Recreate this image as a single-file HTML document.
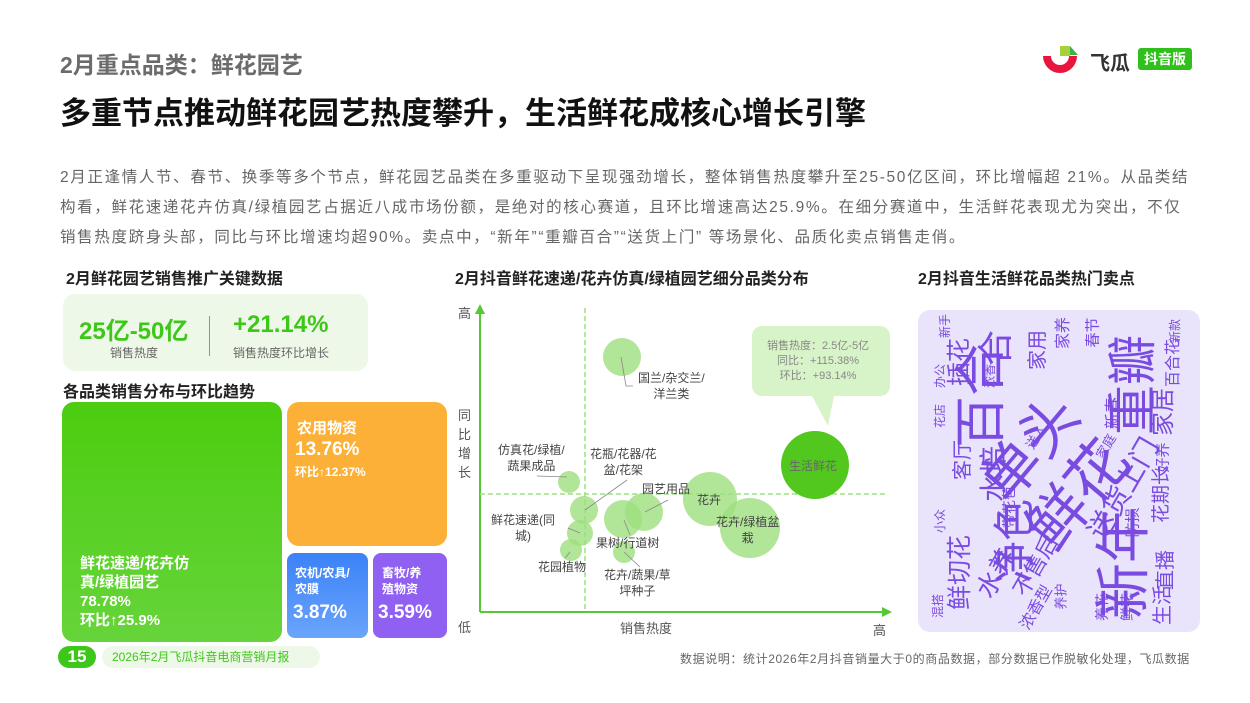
<!DOCTYPE html>
<html><head><meta charset="utf-8"><style>
*{margin:0;padding:0;box-sizing:border-box}
body{width:1250px;height:703px;background:#fff;position:relative;overflow:hidden;font-family:"Liberation Sans","Noto Sans CJK SC",sans-serif}
.a{position:absolute;white-space:nowrap}
.b{font-weight:bold}
.wc{position:absolute;color:#7a4be0;white-space:nowrap;line-height:1;transform-origin:center}
.lb{position:absolute;font-size:12px;color:#444;text-align:center;line-height:16px;white-space:nowrap}
.p{position:absolute;left:60px;font-size:15.5px;color:#666;white-space:nowrap;letter-spacing:1.65px}
</style></head><body>
<div class="a b" style="left:60px;top:46px;font-size:23px;color:#6b6b6b">2月重点品类：鲜花园艺</div>
<div class="a b" style="left:60px;top:88px;font-size:31px;color:#111">多重节点推动鲜花园艺热度攀升，生活鲜花成核心增长引擎</div>
<svg class="a" style="left:1040px;top:44px" width="42" height="32" viewBox="0 0 42 32"><path d="M3 12 A17 17 0 0 0 37 12 L29 12 A9 9 0 0 1 11 12 Z" fill="#e8163f"/><rect x="20" y="2" width="10" height="10" fill="#a6d13a"/><path d="M30 2 L38 11 L30 11Z" fill="#3bb54a"/></svg>
<div class="a b" style="left:1090px;top:47px;font-size:20px;color:#333">飞瓜</div>
<div class="a b" style="left:1138px;top:48px;width:54px;height:22px;background:#2fc01c;color:#fff;font-size:14px;border-radius:3px;text-align:center;line-height:22px">抖音版</div>
<div class="p" style="top:165px">2月正逢情人节、春节、换季等多个节点，鲜花园艺品类在多重驱动下呈现强劲增长，整体销售热度攀升至25-50亿区间，环比增幅超 21%。从品类结</div>
<div class="p" style="top:195px">构看，鲜花速递花卉仿真/绿植园艺占据近八成市场份额，是绝对的核心赛道，且环比增速高达25.9%。在细分赛道中，生活鲜花表现尤为突出，不仅</div>
<div class="p" style="top:225px">销售热度跻身头部，同比与环比增速均超90%。卖点中，“新年”“重瓣百合”“送货上门” 等场景化、品质化卖点销售走俏。</div>
<div class="a b" style="left:66px;top:265px;font-size:16px;color:#222">2月鲜花园艺销售推广关键数据</div>
<div class="a" style="left:63px;top:294px;width:305px;height:77px;background:#eef8e8;border-radius:12px"></div>
<div class="a b" style="left:79px;top:311px;font-size:24px;color:#3ec71a">25亿-50亿</div>
<div class="a" style="left:110px;top:344px;font-size:12px;color:#666">销售热度</div>
<div class="a" style="left:209px;top:316px;width:1px;height:40px;background:#4bc926"></div>
<div class="a b" style="left:233px;top:311px;font-size:24px;color:#3ec71a">+21.14%</div>
<div class="a" style="left:233px;top:344px;font-size:12px;color:#666">销售热度环比增长</div>
<div class="a b" style="left:63px;top:378px;font-size:16px;color:#222">各品类销售分布与环比趋势</div>
<div class="a" style="left:62px;top:402px;width:220px;height:240px;background:linear-gradient(#4ccd10,#66d43a);border-radius:12px"></div>
<div class="a b" style="left:80px;top:554px;font-size:15px;color:#fff;line-height:19px">鲜花速递/花卉仿<br>真/绿植园艺<br>78.78%<br>环比↑25.9%</div>
<div class="a" style="left:287px;top:402px;width:160px;height:144px;background:#fdb038;border-radius:12px"></div>
<div class="a b" style="left:297px;top:419px;font-size:15px;color:#fff;line-height:19px">农用物资</div>
<div class="a b" style="left:295px;top:439px;font-size:19px;color:#fff">13.76%</div>
<div class="a b" style="left:295px;top:463px;font-size:12px;color:#fff">环比↑12.37%</div>
<div class="a" style="left:287px;top:553px;width:81px;height:85px;background:linear-gradient(#3b82f8,#6aa4fb);border-radius:8px"></div>
<div class="a b" style="left:295px;top:565px;font-size:12px;color:#fff;line-height:16px">农机/农具/<br>农膜</div>
<div class="a b" style="left:293px;top:602px;font-size:19px;color:#fff">3.87%</div>
<div class="a" style="left:373px;top:553px;width:74px;height:85px;background:#9060f2;border-radius:8px"></div>
<div class="a b" style="left:382px;top:565px;font-size:12px;color:#fff;line-height:16px">畜牧/养<br>殖物资</div>
<div class="a b" style="left:378px;top:602px;font-size:19px;color:#fff">3.59%</div>
<div class="a b" style="left:58px;top:646px;width:38px;height:22px;background:#3ec71a;border-radius:11px;color:#fff;font-size:17px;text-align:center;line-height:22px">15</div>
<div class="a" style="left:102px;top:646px;width:218px;height:22px;background:#eef8e8;border-radius:11px;color:#3ec71a;font-size:12px;line-height:22px;padding-left:10px">2026年2月飞瓜抖音电商营销月报</div>
<div class="a" style="left:680px;top:650px;font-size:12px;color:#666;letter-spacing:0.6px">数据说明：统计2026年2月抖音销量大于0的商品数据，部分数据已作脱敏化处理，飞瓜数据</div>
<div class="a b" style="left:455px;top:265px;font-size:16px;color:#222">2月抖音鲜花速递/花卉仿真/绿植园艺细分品类分布</div>
<svg class="a" style="left:440px;top:290px" width="470" height="350">
<line x1="40" y1="322" x2="40" y2="20" stroke="#55c933" stroke-width="2"/><path d="M35 24 L40 14 L45 24Z" fill="#55c933"/>
<line x1="40" y1="322" x2="445" y2="322" stroke="#55c933" stroke-width="2"/><path d="M442 317 L452 322 L442 327Z" fill="#55c933"/>
<line x1="145" y1="18" x2="145" y2="322" stroke="#66d040" stroke-dasharray="5,3"/>
<line x1="40" y1="204" x2="445" y2="204" stroke="#9fe080" stroke-dasharray="5,3" stroke-width="1.5"/>
<g fill="#9ddf7e" fill-opacity="0.8">
<circle cx="182" cy="67" r="19"/><circle cx="270" cy="209" r="27"/><circle cx="310" cy="238" r="30"/>
<circle cx="204" cy="222" r="19"/><circle cx="183" cy="229" r="19"/><circle cx="144" cy="220" r="14"/>
<circle cx="129" cy="192" r="11"/><circle cx="140" cy="243" r="13"/><circle cx="131" cy="260" r="11"/><circle cx="184" cy="262" r="11"/>
</g>
<circle cx="375" cy="175" r="34" fill="#52c81f"/>
<path d="M322 36 h118 a10 10 0 0 1 10 10 v50 a10 10 0 0 1 -10 10 h-46 l-6 30 l-16 -30 h-50 a10 10 0 0 1 -10 -10 v-50 a10 10 0 0 1 10 -10z" fill="#d3f2c2" opacity="0.9"/>
<g stroke="#888" stroke-width="0.8" fill="none"><path d="M181 67 L186 96 L193 96"/><path d="M127 187 L97 186"/><path d="M145 220 L187 190"/><path d="M205 222 L228 210"/><path d="M184 230 L190 245"/><path d="M140 243 L128 238"/><path d="M130 262 L125 268"/><path d="M184 262 L200 277"/></g>
</svg>
<div class="a" style="left:458px;top:303px;font-size:13px;color:#555">高</div>
<div class="a" style="left:458px;top:406px;font-size:13px;color:#555;line-height:19px;white-space:normal;width:14px">同比增长</div>
<div class="a" style="left:458px;top:617px;font-size:13px;color:#555">低</div>
<div class="a" style="left:620px;top:618px;font-size:13px;color:#555">销售热度</div>
<div class="a" style="left:873px;top:620px;font-size:13px;color:#555">高</div>
<div class="lb" style="left:638px;top:370px">国兰/杂交兰/<br>洋兰类</div>
<div class="lb" style="left:498px;top:442px">仿真花/绿植/<br>蔬果成品</div>
<div class="lb" style="left:590px;top:446px">花瓶/花器/花<br>盆/花架</div>
<div class="lb" style="left:642px;top:481px">园艺用品</div>
<div class="lb" style="left:697px;top:492px">花卉</div>
<div class="lb" style="left:716px;top:514px">花卉/绿植盆<br>栽</div>
<div class="lb" style="left:491px;top:512px">鲜花速递(同<br>城)</div>
<div class="lb" style="left:596px;top:535px">果树/行道树</div>
<div class="lb" style="left:538px;top:559px">花园植物</div>
<div class="lb" style="left:604px;top:567px">花卉/蔬果/草<br>坪种子</div>
<div class="lb" style="left:789px;top:458px;color:#666">生活鲜花</div>
<div class="lb" style="left:767px;top:339px;font-size:11px;line-height:15px;color:#888">销售热度：2.5亿-5亿<br>同比：+115.38%<br>环比：+93.14%</div>
<div class="a b" style="left:918px;top:265px;font-size:16px;color:#222">2月抖音生活鲜花品类热门卖点</div>
<div class="a" style="left:918px;top:310px;width:282px;height:322px;background:#e9e3fb;border-radius:12px;overflow:hidden">
<div class="wc" style="left:12px;top:60px;font-size:52px;transform:rotate(-90deg)">百合</div>
<div class="wc" style="left:165px;top:50px;font-size:50px;transform:rotate(-90deg)">重瓣</div>
<div class="wc" style="left:150px;top:225px;font-size:56px;transform:rotate(-90deg)">新年</div>
<div class="wc" style="left:55px;top:110px;font-size:58px;transform:rotate(-50deg)">单头</div>
<div class="wc" style="left:100px;top:155px;font-size:60px;transform:rotate(-50deg)">鲜花</div>
<div class="wc" style="left:55px;top:210px;font-size:42px;transform:rotate(-90deg)">净色</div>
<div class="wc" style="left:150px;top:165px;font-size:28px;transform:rotate(-60deg)">送货上门</div>
<div class="wc" style="left:5px;top:250px;font-size:25px;transform:rotate(-90deg)">鲜切花</div>
<div class="wc" style="left:52px;top:250px;font-size:26px;transform:rotate(-60deg)">水养</div>
<div class="wc" style="left:85px;top:245px;font-size:22px;transform:rotate(-60deg)">不售后</div>
<div class="wc" style="left:18px;top:40px;font-size:24px;transform:rotate(-90deg)">插花</div>
<div class="wc" style="left:60px;top:20px;font-size:36px;transform:rotate(-90deg)">合</div>
<div class="wc" style="left:222px;top:90px;font-size:24px;transform:rotate(-90deg)">家居</div>
<div class="wc" style="left:215px;top:175px;font-size:19px;transform:rotate(-90deg)">花期长</div>
<div class="wc" style="left:228px;top:250px;font-size:20px;transform:rotate(-90deg)">直播</div>
<div class="wc" style="left:225px;top:285px;font-size:20px;transform:rotate(-90deg)">生活</div>
<div class="wc" style="left:100px;top:30px;font-size:20px;transform:rotate(-90deg)">家用</div>
<div class="wc" style="left:130px;top:15px;font-size:16px;transform:rotate(-90deg)">家养</div>
<div class="wc" style="left:160px;top:15px;font-size:15px;transform:rotate(-90deg)">春节</div>
<div class="wc" style="left:232px;top:45px;font-size:16px;transform:rotate(-90deg)">百合花</div>
<div class="wc" style="left:230px;top:140px;font-size:15px;transform:rotate(-90deg)">好养</div>
<div class="wc" style="left:25px;top:140px;font-size:20px;transform:rotate(-90deg)">客厅</div>
<div class="wc" style="left:48px;top:150px;font-size:28px;transform:rotate(-90deg)">水培</div>
<div class="wc" style="left:70px;top:190px;font-size:14px;transform:rotate(-90deg)">带花苞</div>
<div class="wc" style="left:95px;top:290px;font-size:16px;transform:rotate(-60deg)">浓香型</div>
<div class="wc" style="left:130px;top:280px;font-size:13px;transform:rotate(-90deg)">养护</div>
<div class="wc" style="left:10px;top:205px;font-size:12px;transform:rotate(-90deg)">小众</div>
<div class="wc" style="left:10px;top:60px;font-size:12px;transform:rotate(-90deg)">办公</div>
<div class="wc" style="left:10px;top:100px;font-size:12px;transform:rotate(-90deg)">花店</div>
<div class="wc" style="left:60px;top:60px;font-size:12px;transform:rotate(-90deg)">浓香</div>
<div class="wc" style="left:245px;top:15px;font-size:12px;transform:rotate(-90deg)">新款</div>
<div class="wc" style="left:15px;top:10px;font-size:12px;transform:rotate(-90deg)">新手</div>
<div class="wc" style="left:170px;top:290px;font-size:14px;transform:rotate(-90deg)">养花</div>
<div class="wc" style="left:195px;top:290px;font-size:14px;transform:rotate(-90deg)">鲜花</div>
<div class="wc" style="left:8px;top:290px;font-size:12px;transform:rotate(-90deg)">混搭</div>
<div class="wc" style="left:200px;top:205px;font-size:15px;transform:rotate(-90deg)">防损</div>
<div class="wc" style="left:175px;top:130px;font-size:13px;transform:rotate(-60deg)">家庭</div>
<div class="wc" style="left:180px;top:95px;font-size:16px;transform:rotate(-90deg)">新春</div>
<div class="wc" style="left:105px;top:120px;font-size:13px;transform:rotate(-60deg)">送人</div>
</div>
</body></html>
